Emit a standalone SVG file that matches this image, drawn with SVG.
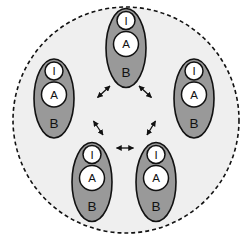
<svg xmlns="http://www.w3.org/2000/svg" width="250" height="244" viewBox="0 0 250 244">
<style>
.shell{fill:#999999;stroke:#111;stroke-width:1.6}
.cell{fill:#ffffff;stroke:#111;stroke-width:1.5}
.t{font-family:"Liberation Sans",Arial,sans-serif;fill:#111;text-anchor:middle}
.s{font-size:11.5px}
.b{font-size:13.5px}
.arr{stroke:#111;stroke-width:1.3;fill:none;marker-start:url(#ah);marker-end:url(#ah)}
</style>
<defs>
<marker id="ah" viewBox="0 0 10 10" refX="9" refY="5" markerWidth="4.5" markerHeight="4.5" orient="auto-start-reverse" markerUnits="strokeWidth">
<path d="M0,0 L10,5 L0,10 z" fill="#111"/>
</marker>
<g id="proto">
<ellipse class="shell" cx="0" cy="0" rx="20" ry="39.5"/>
<circle class="cell" cx="0" cy="-27.5" r="9"/>
<circle class="cell" cx="0" cy="-4" r="12.5"/>
<text class="t s" x="0" y="-23.5">I</text>
<text class="t s" x="0" y="0">A</text>
<text class="t b" x="0" y="29">B</text>
</g>
</defs>
<rect width="250" height="244" fill="#ffffff"/>
<circle cx="126" cy="120" r="113" fill="#efefef" stroke="#111" stroke-width="1.6" stroke-dasharray="4,3"/>
<g id="node-top"><use href="#proto" x="126" y="48"/></g>
<g id="node-left"><use href="#proto" x="54" y="98.5"/></g>
<g id="node-right"><use href="#proto" x="194" y="98.5"/></g>
<g id="node-bottom-left"><use href="#proto" x="92" y="182"/></g>
<g id="node-bottom-right"><use href="#proto" x="156" y="182"/></g>
<g id="connectors">
<line class="arr" x1="110" y1="86" x2="97.5" y2="97.5"/>
<line class="arr" x1="139" y1="86" x2="151.5" y2="97.5"/>
<line class="arr" x1="93.5" y1="121" x2="103" y2="135"/>
<line class="arr" x1="155.5" y1="121" x2="147" y2="135"/>
<line class="arr" x1="116.5" y1="148" x2="133.5" y2="148"/>
</g>
</svg>
